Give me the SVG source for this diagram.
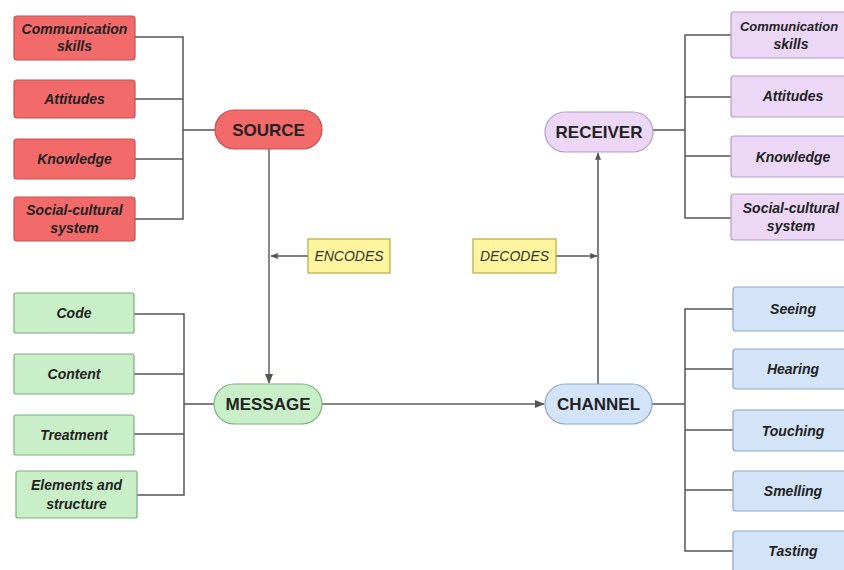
<svg xmlns="http://www.w3.org/2000/svg" width="844" height="570" viewBox="0 0 844 570">
<defs>
<marker id="arr" viewBox="0 0 10 10" refX="9" refY="5" markerWidth="5" markerHeight="5" orient="auto"><path d="M0,1 L10,5 L0,9 z" fill="#555"/></marker>
<style>
.red{fill:#f26a6a;stroke:#c65050;stroke-width:1.2}
.grn{fill:#c8efc8;stroke:#7fae7f;stroke-width:1.2}
.pur{fill:#ecd7f7;stroke:#b39cc2;stroke-width:1.2}
.blu{fill:#d3e3f8;stroke:#8ea7c6;stroke-width:1.2}
.yel{fill:#fff59e;stroke:#b8a840;stroke-width:1.2}
.bt{font-family:"Liberation Sans",Arial,sans-serif;font-size:14px;font-weight:bold;font-style:italic;fill:#222;text-anchor:middle}
.nt{font-family:"Liberation Sans",Arial,sans-serif;font-size:17px;font-weight:bold;fill:#222;text-anchor:middle}
.yt{font-family:"Liberation Sans",Arial,sans-serif;font-size:14px;font-style:italic;fill:#333;text-anchor:middle}
.ln{fill:none;stroke:#555;stroke-width:1.5}
.lg{fill:none;stroke:#888;stroke-width:2}
</style>
</defs>
<rect width="844" height="570" fill="#ffffff"/>
<g id="connectors">
<path class="ln" d="M135,37 H183 V219 H135 M135,99 H183 M135,159 H183 M183,130 H215"/>
<path class="ln" d="M731,35 H685 V218 H731 M731,97 H685 M731,156 H685 M653,130 H685"/>
<path class="ln" d="M134,314 H184 V495 H137 M134,374 H184 M134,434 H184 M184,404 H214"/>
<path class="ln" d="M733,309 H685 V551 H733 M733,369 H685 M733,430 H685 M733,490 H685 M652,404 H685"/>
<path class="lg" d="M269,149 V383" marker-end="url(#arr)"/>
<path class="lg" d="M322,404 H544" marker-end="url(#arr)"/>
<path class="ln" d="M598,384 V153" marker-end="url(#arr)"/>
<path class="ln" d="M308,256 H271" marker-end="url(#arr)"/>
<path class="ln" d="M556,256 H597" marker-end="url(#arr)"/>
</g>
<g id="source"><rect class="red" x="215" y="110" width="107" height="39" rx="19.5"/><text class="nt" x="268.5" y="136">SOURCE</text></g>
<g id="message"><rect class="grn" x="214" y="384" width="108" height="40" rx="20"/><text class="nt" x="268" y="410">MESSAGE</text></g>
<g id="channel"><rect class="blu" x="545" y="384" width="107" height="40" rx="20"/><text class="nt" x="598.5" y="410">CHANNEL</text></g>
<g id="receiver"><rect class="pur" x="545" y="112" width="108" height="40" rx="20"/><text class="nt" x="599" y="138">RECEIVER</text></g>
<g id="encodes"><rect class="yel" x="308" y="239" width="82" height="34"/><text class="yt" x="349" y="261">ENCODES</text></g>
<g id="decodes"><rect class="yel" x="473" y="239" width="83" height="34"/><text class="yt" x="514.5" y="261">DECODES</text></g>
<g id="s-comm"><rect class="red" x="14" y="16" width="121" height="44" rx="3"/><text class="bt" x="74.5" y="34">Communication</text><text class="bt" x="74.5" y="51">skills</text></g>
<g id="s-att"><rect class="red" x="14" y="80" width="121" height="38" rx="3"/><text class="bt" x="74.5" y="104">Attitudes</text></g>
<g id="s-know"><rect class="red" x="14" y="139" width="121" height="40" rx="3"/><text class="bt" x="74.5" y="164">Knowledge</text></g>
<g id="s-soc"><rect class="red" x="14" y="197" width="121" height="44" rx="3"/><text class="bt" x="74.5" y="215">Social-cultural</text><text class="bt" x="74.5" y="233">system</text></g>
<g id="r-comm"><rect class="pur" x="731" y="12" width="125" height="46" rx="3"/><text class="bt" x="789" y="31" style="font-size:13px">Communication</text><text class="bt" x="791" y="49">skills</text></g>
<g id="r-att"><rect class="pur" x="731" y="76" width="125" height="41" rx="3"/><text class="bt" x="793" y="101">Attitudes</text></g>
<g id="r-know"><rect class="pur" x="731" y="136" width="125" height="41" rx="3"/><text class="bt" x="793" y="161.5">Knowledge</text></g>
<g id="r-soc"><rect class="pur" x="731" y="194" width="125" height="46" rx="3"/><text class="bt" x="791" y="213">Social-cultural</text><text class="bt" x="791" y="231">system</text></g>
<g id="m-code"><rect class="grn" x="14" y="293" width="120" height="40" rx="2"/><text class="bt" x="74" y="318">Code</text></g>
<g id="m-content"><rect class="grn" x="14" y="354" width="120" height="40" rx="2"/><text class="bt" x="74" y="379">Content</text></g>
<g id="m-treat"><rect class="grn" x="14" y="415" width="120" height="40" rx="2"/><text class="bt" x="74" y="440">Treatment</text></g>
<g id="m-elem"><rect class="grn" x="16" y="471" width="121" height="47" rx="2"/><text class="bt" x="76.5" y="490">Elements and</text><text class="bt" x="76.5" y="509">structure</text></g>
<g id="c-see"><rect class="blu" x="733" y="287" width="120" height="44" rx="3"/><text class="bt" x="793" y="314">Seeing</text></g>
<g id="c-hear"><rect class="blu" x="733" y="349" width="120" height="40" rx="3"/><text class="bt" x="793" y="374">Hearing</text></g>
<g id="c-touch"><rect class="blu" x="733" y="410" width="120" height="41" rx="3"/><text class="bt" x="793" y="435.5">Touching</text></g>
<g id="c-smell"><rect class="blu" x="733" y="471" width="120" height="40" rx="3"/><text class="bt" x="793" y="496">Smelling</text></g>
<g id="c-taste"><rect class="blu" x="733" y="556" width="120" height="44" rx="3" transform="translate(0,-25)"/><text class="bt" x="793" y="556">Tasting</text></g>
</svg>
